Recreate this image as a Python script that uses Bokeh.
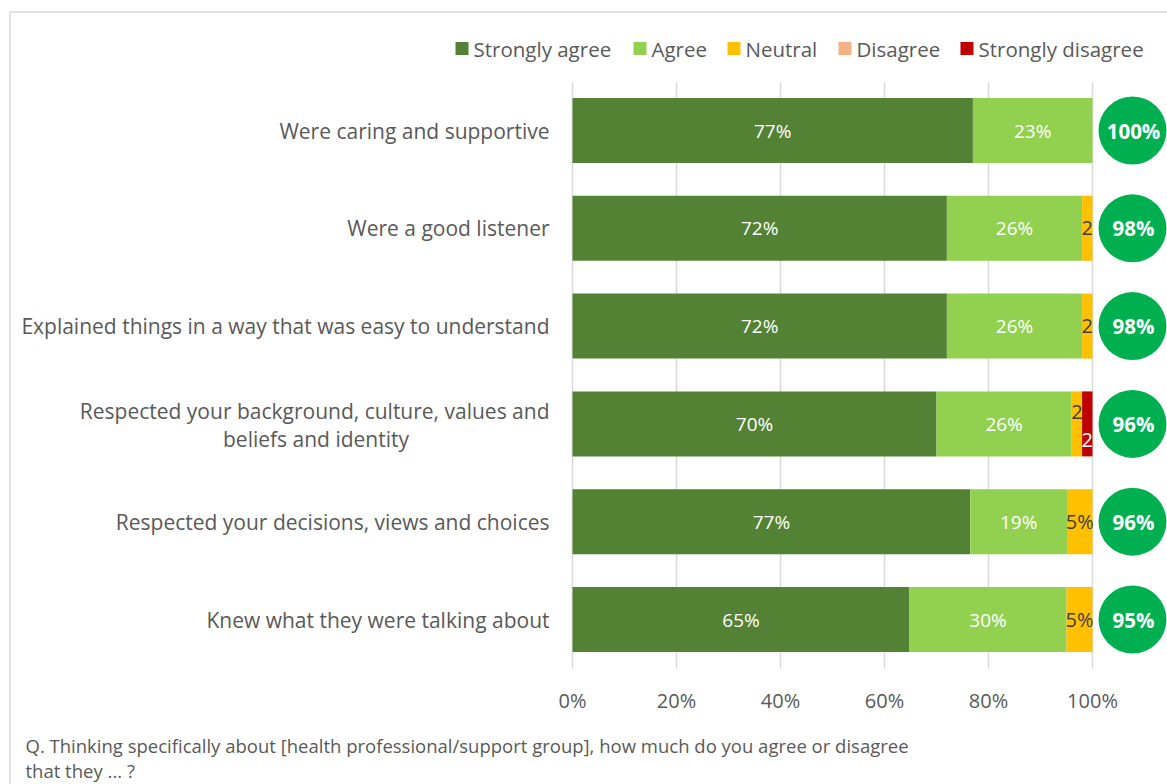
from bokeh.plotting import figure
from bokeh.models import Range1d
from bokeh.core.properties import value
from bokeh.embed import file_html
from bokeh.resources import INLINE
import numpy as np

# ---------------- data ----------------
categories = [
    "Were caring and supportive",
    "Were a good listener",
    "Explained things in a way that was easy to understand",
    "Respected your background, culture, values and\nbeliefs and identity",
    "Respected your decisions, views and choices",
    "Knew what they were talking about",
]
series_names = ["Strongly agree", "Agree", "Neutral", "Disagree", "Strongly disagree"]
strongly_agree = [77, 72, 72, 70, 76.5, 64.8]
agree = [23, 26, 26, 26, 18.6, 30.2]
neutral = [0, 2, 2, 2, 4.9, 5.0]
disagree = [0, 0, 0, 0, 0, 0]
strongly_disagree = [0, 0, 0, 2, 0, 0]
strongly_agree_labels = ["77%", "72%", "72%", "70%", "77%", "65%"]
agree_labels = ["23%", "26%", "26%", "26%", "19%", "30%"]
neutral_labels = ["", "2", "2", "2", "5%", "5%"]
disagree_labels = ["", "", "", "", "", ""]
strongly_disagree_labels = ["", "", "", "2", "", ""]
net_agree = ["100%", "98%", "98%", "96%", "96%", "95%"]
tick_values = [0, 20, 40, 60, 80, 100]
tick_labels = ["0%", "20%", "40%", "60%", "80%", "100%"]
footnote = ["Q. Thinking specifically about [health professional/support group], how much do you agree or disagree",
            "that they ... ?"]

colors = ["#548235", "#92D050", "#FFC000", "#F4B183", "#C00000"]
label_colors = ["white", "white", "#404040", "#404040", "white"]
GREEN = "#00B050"
GRAY_TXT = "#595959"
FONT = value("Open Sans")

# ---------------- layout helpers (pixel -> data) ----------------
W, H = 1167, 784
X0, SX = 572.0, 5.2     # 0% at px 572, 5.2 px per percent
Y0, SY = 130.0, 97.8    # first row centre at px 130, row pitch


def dx(px):
    return (px - X0) / SX


def dy(py):
    return (py - Y0) / SY


p = figure(width=W, height=H, output_backend="svg", toolbar_location=None,
           x_range=Range1d(dx(0), dx(W)), y_range=Range1d(dy(H), dy(0)),
           x_axis_location=None, y_axis_location=None, min_border=0,
           outline_line_color=None, background_fill_color="white",
           border_fill_color="white")
p.grid.visible = False

# chart border
p.quad(left=[dx(9.5)], right=[dx(1300)], top=[dy(11.5)], bottom=[dy(900)],
       fill_color=None, line_color="#D9D9D9", line_width=1.5)

n = len(categories)
rows = np.arange(n)

# vertical gridlines
p.segment(x0=tick_values, x1=tick_values, y0=[dy(82)] * len(tick_values),
          y1=[dy(668)] * len(tick_values), line_color="#D9D9D9", line_width=1.5)

# stacked bars
series = [strongly_agree, agree, neutral, disagree, strongly_disagree]
labels = [strongly_agree_labels, agree_labels, neutral_labels, disagree_labels,
          strongly_disagree_labels]
left = np.zeros(n)
bar_h = 65.0 / SY
for k, vals in enumerate(series):
    v = np.array(vals, dtype=float)
    right = left + v
    mask = v > 0
    if mask.any():
        p.hbar(y=rows[mask], left=left[mask], right=right[mask], height=bar_h,
               fill_color=colors[k], line_color=None)
    xs, ys, ts = [], [], []
    for i in range(n):
        if labels[k][i]:
            xs.append((left[i] + right[i]) / 2)
            yy = float(i)
            if i == 3 and k == 2:
                yy = dy(411)
            if i == 3 and k == 4:
                yy = dy(439)
            ys.append(yy)
            ts.append(labels[k][i])
    if ts:
        p.text(x=xs, y=ys, text=ts, text_align="center", text_baseline="middle",
               text_color=label_colors[k], text_font=FONT,
               text_font_size="19px" if k < 2 else "20px")
    left = right

# net agree circles
p.scatter(x=[dx(1132)] * n, y=rows, size=68, marker="circle",
          fill_color=GREEN, line_color=None)
p.text(x=[dx(1133)] * n, y=rows, text=net_agree, text_align="center",
       text_baseline="middle", text_color="white", text_font=FONT,
       text_font_size="20.5px", text_font_style="bold")

# category labels
CAT_FS = "21px"
for i, c in enumerate(categories):
    parts = c.split("\n")
    if len(parts) == 1:
        p.text(x=[dx(549)], y=[i], text=[c], text_align="right",
               text_baseline="middle", text_color=GRAY_TXT, text_font=FONT,
               text_font_size=CAT_FS)
    else:
        p.text(x=[dx(549)], y=[i + dy(411) - dy(424)], text=[parts[0]],
               text_align="right", text_baseline="middle", text_color=GRAY_TXT,
               text_font=FONT, text_font_size=CAT_FS)
        p.text(x=[dx(315.5)], y=[i + dy(439) - dy(424)], text=[parts[1]],
               text_align="center", text_baseline="middle", text_color=GRAY_TXT,
               text_font=FONT, text_font_size=CAT_FS)

# x tick labels
p.text(x=tick_values, y=[dy(700)] * len(tick_values), text=tick_labels,
       text_align="center", text_baseline="middle", text_color=GRAY_TXT,
       text_font=FONT, text_font_size="20px")

# legend
leg_sq_x = [455, 633, 727, 838, 960]
for k, name in enumerate(series_names):
    p.quad(left=[dx(leg_sq_x[k])], right=[dx(leg_sq_x[k] + 13)],
           top=[dy(41.5)], bottom=[dy(54.5)], fill_color=colors[k], line_color=None)
    p.text(x=[dx(leg_sq_x[k] + 18)], y=[dy(48)], text=[name], text_align="left",
           text_baseline="middle", text_color=GRAY_TXT, text_font=FONT,
           text_font_size="20.5px")

# footnote
p.text(x=[dx(25)] * 2, y=[dy(745), dy(770)], text=footnote, text_align="left",
       text_baseline="middle", text_color=GRAY_TXT, text_font=FONT,
       text_font_size="18.5px")

open("out.html", "w").write(file_html(p, INLINE))
